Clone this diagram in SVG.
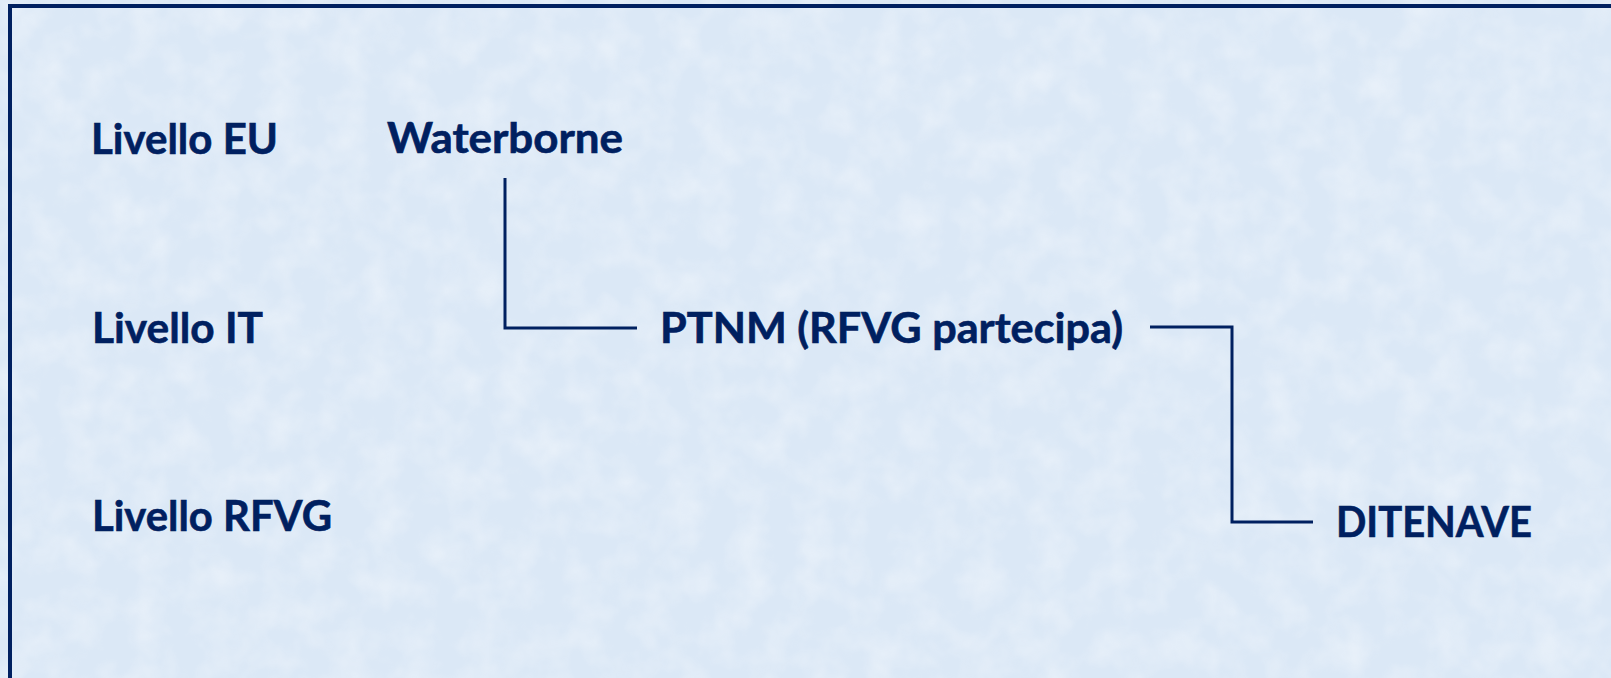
<svg xmlns="http://www.w3.org/2000/svg" width="1611" height="678" viewBox="0 0 1611 678">
  <style>
    .lbl { font-family: Lato, "Liberation Sans", sans-serif; font-weight: 700; font-size: 42px; fill: #002060; stroke: #002060; stroke-width: 0.6; }
    .conn { fill: none; stroke: #002060; stroke-width: 3; stroke-linejoin: miter; }
  </style>
  <defs>
    <filter id="tex" x="0" y="0" width="100%" height="100%">
      <feTurbulence type="fractalNoise" baseFrequency="0.03" numOctaves="3" seed="4" result="n"/>
      <feColorMatrix in="n" type="matrix" values="0 0 0 0 1  0 0 0 0 1  0 0 0 0 1  0 0 0 -1.6 1.0" result="w"/>
      <feComposite in="w" in2="SourceGraphic" operator="in"/>
    </filter>
  </defs>
  <rect id="background" x="0" y="0" width="1611" height="678" fill="#dbe8f6"/>
  <rect x="0" y="0" width="1611" height="678" fill="#ffffff" filter="url(#tex)" opacity="0.4"/>
  <rect id="frame" x="10" y="6" width="1700" height="800" fill="none" stroke="#002060" stroke-width="4"/>

  <g id="level-eu"><text class="lbl" x="91" y="154" textLength="187" lengthAdjust="spacingAndGlyphs">Livello EU</text></g>
  <g id="level-it"><text class="lbl" x="92" y="343" textLength="171" lengthAdjust="spacingAndGlyphs">Livello IT</text></g>
  <g id="level-rfvg"><text class="lbl" x="92" y="531" textLength="240" lengthAdjust="spacingAndGlyphs">Livello RFVG</text></g>

  <g id="waterborne"><text class="lbl" x="387" y="153" textLength="236" lengthAdjust="spacingAndGlyphs">Waterborne</text></g>
  <g id="ptnm"><text class="lbl" x="660" y="343" textLength="463" lengthAdjust="spacingAndGlyphs">PTNM (RFVG partecipa)</text></g>
  <g id="ditenave"><text class="lbl" x="1336" y="537" textLength="196" lengthAdjust="spacingAndGlyphs">DITENAVE</text></g>

  <g id="connectors">
    <polyline class="conn" points="505,178 505,328 637,328"/>
    <polyline class="conn" points="1150,327 1232,327 1232,522 1313,522"/>
  </g>
</svg>
